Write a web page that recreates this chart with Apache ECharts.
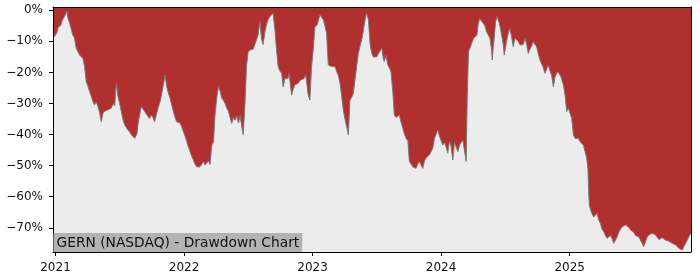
<!DOCTYPE html>
<html>
<head>
<meta charset="utf-8">
<script src="https://cdn.jsdelivr.net/npm/echarts@6/dist/echarts.min.js"></script>
<style>html,body{margin:0;padding:0;background:#fff}#c{width:700px;height:280px}</style>
</head>
<body>
<div id="c"></div>
<script>
// Decimal-year positions of readings
var years = [
2020.981,2020.992,2021.008,2021.023,2021.039,2021.055,2021.070,2021.088,2021.097,2021.109,
2021.121,2021.135,2021.148,2021.161,2021.171,2021.187,2021.199,2021.213,2021.226,2021.239,
2021.249,2021.265,2021.277,2021.291,2021.304,2021.317,2021.330,2021.343,2021.356,2021.369,
2021.382,2021.395,2021.408,2021.421,2021.434,2021.447,2021.460,2021.473,2021.485,2021.499,
2021.512,2021.524,2021.538,2021.551,2021.563,2021.577,2021.590,2021.602,2021.616,2021.634,
2021.644,2021.655,2021.668,2021.680,2021.694,2021.707,2021.719,2021.732,2021.746,2021.758,
2021.771,2021.785,2021.797,2021.813,2021.826,2021.839,2021.852,2021.865,2021.877,2021.891,
2021.904,2021.917,2021.930,2021.943,2021.956,2021.969,2021.982,2021.995,2022.008,2022.021,
2022.034,2022.047,2022.060,2022.073,2022.085,2022.099,2022.112,2022.124,2022.138,2022.151,
2022.163,2022.177,2022.190,2022.202,2022.216,2022.229,2022.241,2022.255,2022.268,2022.280,
2022.294,2022.307,2022.319,2022.333,2022.346,2022.358,2022.371,2022.385,2022.397,2022.410,
2022.424,2022.436,2022.447,2022.460,2022.473,2022.486,2022.498,2022.512,2022.525,2022.537,
2022.551,2022.564,2022.576,2022.590,2022.603,2022.615,2022.629,2022.642,2022.654,2022.668,
2022.681,2022.693,2022.707,2022.720,2022.732,2022.745,2022.759,2022.771,2022.784,2022.798,
2022.808,2022.818,2022.827,2022.837,2022.849,2022.862,2022.876,2022.888,2022.907,2022.919,
2022.932,2022.946,2022.956,2022.966,2022.979,2022.992,2023.005,2023.018,2023.036,2023.047,
2023.057,2023.070,2023.083,2023.096,2023.109,2023.122,2023.135,2023.148,2023.161,2023.174,
2023.187,2023.200,2023.213,2023.226,2023.239,2023.252,2023.265,2023.278,2023.291,2023.304,
2023.317,2023.330,2023.343,2023.356,2023.369,2023.382,2023.395,2023.408,2023.421,2023.434,
2023.447,2023.460,2023.473,2023.486,2023.499,2023.511,2023.525,2023.538,2023.550,2023.558,
2023.571,2023.585,2023.597,2023.610,2023.624,2023.636,2023.649,2023.663,2023.675,2023.688,
2023.702,2023.714,2023.727,2023.741,2023.753,2023.766,2023.780,2023.792,2023.805,2023.818,
2023.831,2023.844,2023.857,2023.870,2023.883,2023.896,2023.909,2023.922,2023.935,2023.948,
2023.961,2023.974,2023.987,2024.000,2024.013,2024.026,2024.039,2024.052,2024.065,2024.078,
2024.091,2024.104,2024.117,2024.130,2024.143,2024.156,2024.169,2024.182,2024.195,2024.203,
2024.213,2024.226,2024.239,2024.252,2024.265,2024.278,2024.288,2024.299,2024.312,2024.327,
2024.341,2024.353,2024.366,2024.380,2024.390,2024.398,2024.405,2024.413,2024.423,2024.434,
2024.442,2024.452,2024.462,2024.475,2024.483,2024.491,2024.501,2024.509,2024.522,2024.535,
2024.548,2024.561,2024.574,2024.587,2024.600,2024.613,2024.626,2024.639,2024.652,2024.665,
2024.678,2024.691,2024.704,2024.717,2024.730,2024.743,2024.756,2024.769,2024.782,2024.795,
2024.808,2024.821,2024.834,2024.847,2024.860,2024.873,2024.886,2024.896,2024.906,2024.920,
2024.933,2024.943,2024.951,2024.964,2024.977,2024.990,2025.003,2025.016,2025.029,2025.042,
2025.054,2025.068,2025.081,2025.093,2025.107,2025.120,2025.132,2025.142,2025.148,2025.153,
2025.161,2025.173,2025.187,2025.200,2025.213,2025.226,2025.239,2025.252,2025.265,2025.278,
2025.291,2025.304,2025.317,2025.330,2025.343,2025.356,2025.369,2025.382,2025.395,2025.408,
2025.421,2025.434,2025.447,2025.460,2025.473,2025.486,2025.499,2025.512,2025.525,2025.538,
2025.551,2025.564,2025.576,2025.590,2025.603,2025.615,2025.629,2025.642,2025.654,2025.668,
2025.681,2025.693,2025.707,2025.720,2025.732,2025.746,2025.759,2025.771,2025.785,2025.798,
2025.810,2025.823,2025.837,2025.849,2025.862,2025.876,2025.888,2025.901,2025.915,2025.927,
2025.944
];
// Drawdown from running peak, percent
var drawdown = [
-4.7,-8.5,-7.5,-5.3,-5,-3,-2,-0.2,-2.5,-4,
-3.5,-8,-9,-12.2,-13,-14.4,-13.8,-15.5,-18,-23,
-24,-26.2,-27.5,-29.4,-30.5,-29.4,-31,-33,-35.9,-33.2,
-32.5,-32.8,-32,-32.6,-31.5,-30,-30.8,-23.5,-27.6,-30,
-32.6,-35,-36.9,-37.3,-38.5,-39.2,-40.1,-40.7,-41.2,-39.7,
-36,-33.7,-31,-31.5,-32.6,-33.5,-33.2,-34.8,-33.7,-34.5,
-35.9,-33.5,-31.6,-29.4,-27,-24,-20.8,-24.6,-26.5,-28.3,
-30.5,-32.6,-34.5,-35.9,-36,-36.3,-37.5,-39.1,-40.5,-42.3,
-44,-45.5,-47,-48.2,-49.5,-50.4,-50,-50.4,-49.5,-48.7,
-49.8,-49.6,-48.5,-49.6,-43.4,-42.3,-33.7,-28,-24.6,-26,
-28.3,-29,-30,-31.5,-32.6,-34.5,-36.4,-34.5,-35.4,-34,
-36.3,-33.7,-37,-40,-31,-18,-13.5,-12.8,-12.6,-12.5,
-11,-11.5,-8,-3.6,-9.3,-11,-7,-4.5,-3,-2,
-1.5,-1,-6.3,-13,-18,-19.5,-20.3,-24.6,-22,-21.4,
-22,-20.3,-24,-27.3,-25.5,-24,-24.5,-23.5,-22.4,-23,
-22,-20.8,-24,-27.3,-28.9,-18.1,-12.8,-5.3,-4.7,-3,
-1.5,-1,-3,-5,-7.4,-17.6,-17,-18.1,-18.5,-18.1,
-19.7,-21,-23.5,-27.5,-32.1,-35,-37.5,-40.1,-28.9,-28,
-26.7,-22.4,-18,-13.9,-11.5,-9.6,-6.5,-3.1,-0.8,-3,
-10.6,-13.9,-15,-14.4,-15,-14,-13.5,-12.2,-15.5,-16.5,
-14.5,-17.6,-18.5,-19.8,-26.2,-33.7,-34.5,-34,-33.7,-36,
-38,-39.8,-41.2,-42,-48.7,-49.5,-50.4,-50,-50.9,-49.5,
-48.7,-49.8,-50.9,-48.5,-47.5,-47.1,-46.5,-46.8,-44.4,-41.2,
-40,-38.5,-40.5,-42,-43.4,-42.5,-44,-46,-42,-44,
-48.2,-42.5,-44,-45.5,-43.5,-42.5,-41.8,-41.2,-48.7,-28.3,
-13.3,-12,-11.7,-9,-8.5,-8,-4.7,-2.6,-2,-4.2,
-5,-6.9,-7.5,-9,-12,-16,-12,-9,-4,-2,
-1.5,-4,-6,-9,-11,-14.4,-12,-10,-7.5,-5.8,
-8.5,-11.7,-9,-9.5,-10,-11.2,-11.5,-11,-9,-11,
-13.9,-12.5,-11.5,-10.1,-11,-11.7,-14,-16,-16.5,-18.5,
-20.3,-19,-17.6,-19.5,-21,-24.6,-21.5,-20.5,-19.8,-20.5,
-21.5,-23,-24,-27.3,-32.6,-31.5,-31.6,-34.8,-40.1,-41.2,
-41,-41.3,-42.3,-42.8,-43.4,-45.5,-47.5,-51,-58.4,-62.7,
-64,-65.4,-66.5,-66,-65.4,-67.5,-68.6,-70.5,-71.3,-72.5,
-73.4,-73,-72.5,-73.5,-75,-75,-73,-71.5,-70.5,-69.7,
-69.1,-69.1,-69.5,-69.8,-70.7,-71.3,-71.5,-72.5,-72.8,-72.9,
-74,-75,-76.1,-74.5,-73,-72.3,-71.8,-71.8,-72,-72.3,
-73,-73.8,-73.5,-73.2,-73.6,-74,-74,-74.3,-74.5,-75,
-75.2,-75.5,-76.1,-76.6,-77.2,-77.2,-76.1,-75.6,-74,-72.8,
-71.8
];
var yearTicks = [2021, 2022, 2023, 2024, 2025];
var pctTicks = [0, -10, -20, -30, -40, -50, -60, -70];
var chartLabel = 'GERN (NASDAQ) - Drawdown Chart';

var pts = years.map(function (y, i) { return [y, drawdown[i]]; });
var FONT = 'DejaVu Sans';
var chart = echarts.init(document.getElementById('c'), null, {renderer: 'canvas'});
chart.setOption({
  animation: false,
  textStyle: {fontFamily: FONT},
  grid: {left: 53, right: 9, top: 7, bottom: 28, show: true, backgroundColor: '#b03030', borderWidth: 0},
  title: {
    text: chartLabel, left: 53.5, bottom: 28, padding: [2, 3, 1, 3],
    backgroundColor: '#b3b3b3', z: 20,
    textStyle: {fontFamily: FONT, fontSize: 13.8, fontWeight: 'normal', color: '#111', lineHeight: 16}
  },
  xAxis: [{
    type: 'value', min: 2020.9805, max: 2025.944, z: 10,
    axisLine: {show: true, onZero: false, lineStyle: {color: '#000', width: 1}},
    axisTick: {show: true, customValues: yearTicks, length: 4, lineStyle: {color: '#000'}},
    axisLabel: {customValues: yearTicks, margin: 10, fontSize: 12, color: '#111', fontFamily: FONT,
      formatter: function (v) { return String(Math.round(v)); }},
    splitLine: {show: false}
  }, {
    type: 'value', position: 'top', min: 2020.9805, max: 2025.944, z: 10,
    axisLine: {show: true, onZero: false, lineStyle: {color: '#000', width: 1}},
    axisTick: {show: false}, axisLabel: {show: false}, splitLine: {show: false}
  }],
  yAxis: [{
    type: 'value', min: -77.8, max: 1.06, z: 10,
    axisLine: {show: true, onZero: false, lineStyle: {color: '#000', width: 1}},
    axisTick: {show: true, customValues: pctTicks, length: 4, lineStyle: {color: '#000'}},
    axisLabel: {customValues: pctTicks, margin: 10, fontSize: 12, color: '#111', fontFamily: FONT,
      formatter: function (v) { var r = Math.round(v); return (r < 0 ? '\u2212' : '') + Math.abs(r) + '%'; }},
    splitLine: {show: false}
  }, {
    type: 'value', position: 'right', min: -77.8, max: 1.06, z: 10,
    axisLine: {show: true, onZero: false, lineStyle: {color: '#000', width: 1}},
    axisTick: {show: false}, axisLabel: {show: false}, splitLine: {show: false}
  }],
  series: [{
    type: 'line', data: pts, showSymbol: false, symbol: 'none',
    lineStyle: {color: '#7a7a7a', width: 1},
    areaStyle: {color: '#ececec', origin: 'start', opacity: 1}
  }]
});
</script>
</body>
</html>
